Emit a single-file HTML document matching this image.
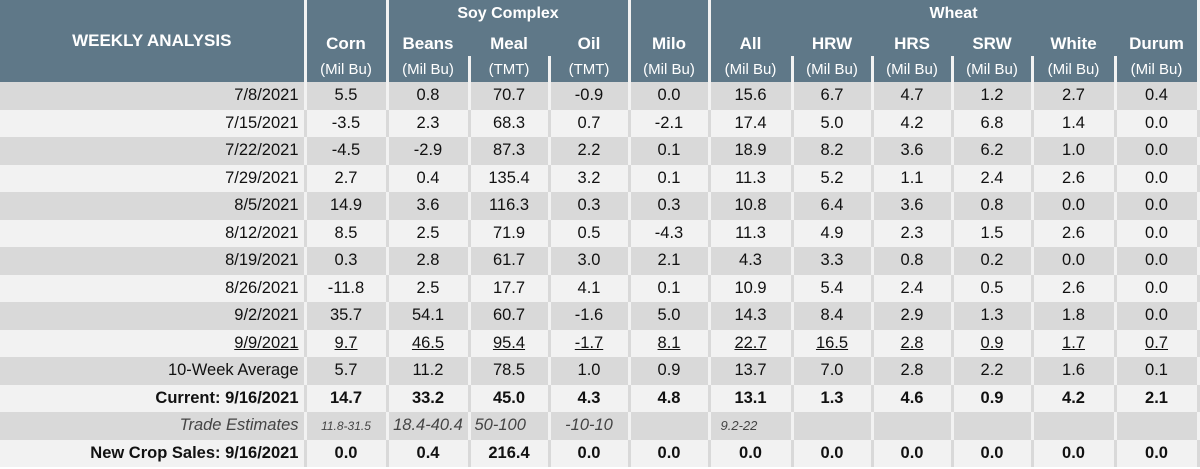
<!DOCTYPE html>
<html><head><style>
body{margin:0;background:#fff;width:1200px;height:469px;overflow:hidden}
table{border-collapse:collapse;table-layout:fixed;width:1198px;font-family:"Liberation Sans",sans-serif;}
td{padding:0;text-align:center;white-space:nowrap;overflow:hidden}
thead td{background:#5f7888;color:#fff;border-right:3px solid #f2f2f2;border-left:0}
.g{font-weight:bold;font-size:16px;height:27px}
.n{font-weight:bold;font-size:17px;height:27px;vertical-align:bottom;padding-bottom:2px}
.ns{border-right-color:#5f7888 !important}
.u{font-size:15px;height:26px}
tbody td{font-size:16.5px;height:27.5px;border-right:3px solid #fff;color:#111}
tbody tr:nth-child(odd) td{background:#d9d9d9;border-right-color:#f2f2f2}
tbody tr:nth-child(even) td{background:#f2f2f2;border-right-color:#d9d9d9}
tbody td:first-child{text-align:right;padding-right:5px}
.ul td{text-decoration:underline}
.b td{font-weight:bold}
.i td{font-style:italic;color:#444}
</style></head><body>
<table>
<colgroup><col style="width:305px"><col style="width:82px"><col style="width:82px"><col style="width:80px"><col style="width:80px"><col style="width:80px"><col style="width:83px"><col style="width:80px"><col style="width:80px"><col style="width:80px"><col style="width:83px"><col style="width:83px"></colgroup>
<thead>
<tr><td rowspan="2" class="n" style="font-size:17px;vertical-align:middle;padding-top:28px;height:auto">WEEKLY ANALYSIS</td><td rowspan="2" class="n">Corn</td><td colspan="3" class="g">Soy Complex</td><td rowspan="2" class="n">Milo</td><td colspan="6" class="g">Wheat</td></tr>
<tr><td class="n ns">Beans</td><td class="n ns">Meal</td><td class="n">Oil</td><td class="n ns">All</td><td class="n ns">HRW</td><td class="n ns">HRS</td><td class="n ns">SRW</td><td class="n ns">White</td><td class="n">Durum</td></tr>
<tr><td class="u"></td><td class="u">(Mil Bu)</td><td class="u">(Mil Bu)</td><td class="u">(TMT)</td><td class="u">(TMT)</td><td class="u">(Mil Bu)</td><td class="u">(Mil Bu)</td><td class="u">(Mil Bu)</td><td class="u">(Mil Bu)</td><td class="u">(Mil Bu)</td><td class="u">(Mil Bu)</td><td class="u">(Mil Bu)</td></tr>
</thead>
<tbody>
<tr><td>7/8/2021</td><td>5.5</td><td>0.8</td><td>70.7</td><td>-0.9</td><td>0.0</td><td>15.6</td><td>6.7</td><td>4.7</td><td>1.2</td><td>2.7</td><td>0.4</td></tr>
<tr><td>7/15/2021</td><td>-3.5</td><td>2.3</td><td>68.3</td><td>0.7</td><td>-2.1</td><td>17.4</td><td>5.0</td><td>4.2</td><td>6.8</td><td>1.4</td><td>0.0</td></tr>
<tr><td>7/22/2021</td><td>-4.5</td><td>-2.9</td><td>87.3</td><td>2.2</td><td>0.1</td><td>18.9</td><td>8.2</td><td>3.6</td><td>6.2</td><td>1.0</td><td>0.0</td></tr>
<tr><td>7/29/2021</td><td>2.7</td><td>0.4</td><td>135.4</td><td>3.2</td><td>0.1</td><td>11.3</td><td>5.2</td><td>1.1</td><td>2.4</td><td>2.6</td><td>0.0</td></tr>
<tr><td>8/5/2021</td><td>14.9</td><td>3.6</td><td>116.3</td><td>0.3</td><td>0.3</td><td>10.8</td><td>6.4</td><td>3.6</td><td>0.8</td><td>0.0</td><td>0.0</td></tr>
<tr><td>8/12/2021</td><td>8.5</td><td>2.5</td><td>71.9</td><td>0.5</td><td>-4.3</td><td>11.3</td><td>4.9</td><td>2.3</td><td>1.5</td><td>2.6</td><td>0.0</td></tr>
<tr><td>8/19/2021</td><td>0.3</td><td>2.8</td><td>61.7</td><td>3.0</td><td>2.1</td><td>4.3</td><td>3.3</td><td>0.8</td><td>0.2</td><td>0.0</td><td>0.0</td></tr>
<tr><td>8/26/2021</td><td>-11.8</td><td>2.5</td><td>17.7</td><td>4.1</td><td>0.1</td><td>10.9</td><td>5.4</td><td>2.4</td><td>0.5</td><td>2.6</td><td>0.0</td></tr>
<tr><td>9/2/2021</td><td>35.7</td><td>54.1</td><td>60.7</td><td>-1.6</td><td>5.0</td><td>14.3</td><td>8.4</td><td>2.9</td><td>1.3</td><td>1.8</td><td>0.0</td></tr>
<tr class="ul"><td>9/9/2021</td><td>9.7</td><td>46.5</td><td>95.4</td><td>-1.7</td><td>8.1</td><td>22.7</td><td>16.5</td><td>2.8</td><td>0.9</td><td>1.7</td><td>0.7</td></tr>
<tr><td>10-Week Average</td><td>5.7</td><td>11.2</td><td>78.5</td><td>1.0</td><td>0.9</td><td>13.7</td><td>7.0</td><td>2.8</td><td>2.2</td><td>1.6</td><td>0.1</td></tr>
<tr class="b"><td>Current: 9/16/2021</td><td>14.7</td><td>33.2</td><td>45.0</td><td>4.3</td><td>4.8</td><td>13.1</td><td>1.3</td><td>4.6</td><td>0.9</td><td>4.2</td><td>2.1</td></tr>
<tr class="i"><td>Trade Estimates</td><td style="font-size:12px">11.8-31.5</td><td>18.4-40.4</td><td style="text-align:left;padding-left:4px">50-100</td><td>-10-10</td><td></td><td style="text-align:left;padding-left:10px;font-size:13px">9.2-22</td><td></td><td></td><td></td><td></td><td></td></tr>
<tr class="b"><td>New Crop Sales: 9/16/2021</td><td>0.0</td><td>0.4</td><td>216.4</td><td>0.0</td><td>0.0</td><td>0.0</td><td>0.0</td><td>0.0</td><td>0.0</td><td>0.0</td><td>0.0</td></tr>
</tbody></table>
</body></html>
